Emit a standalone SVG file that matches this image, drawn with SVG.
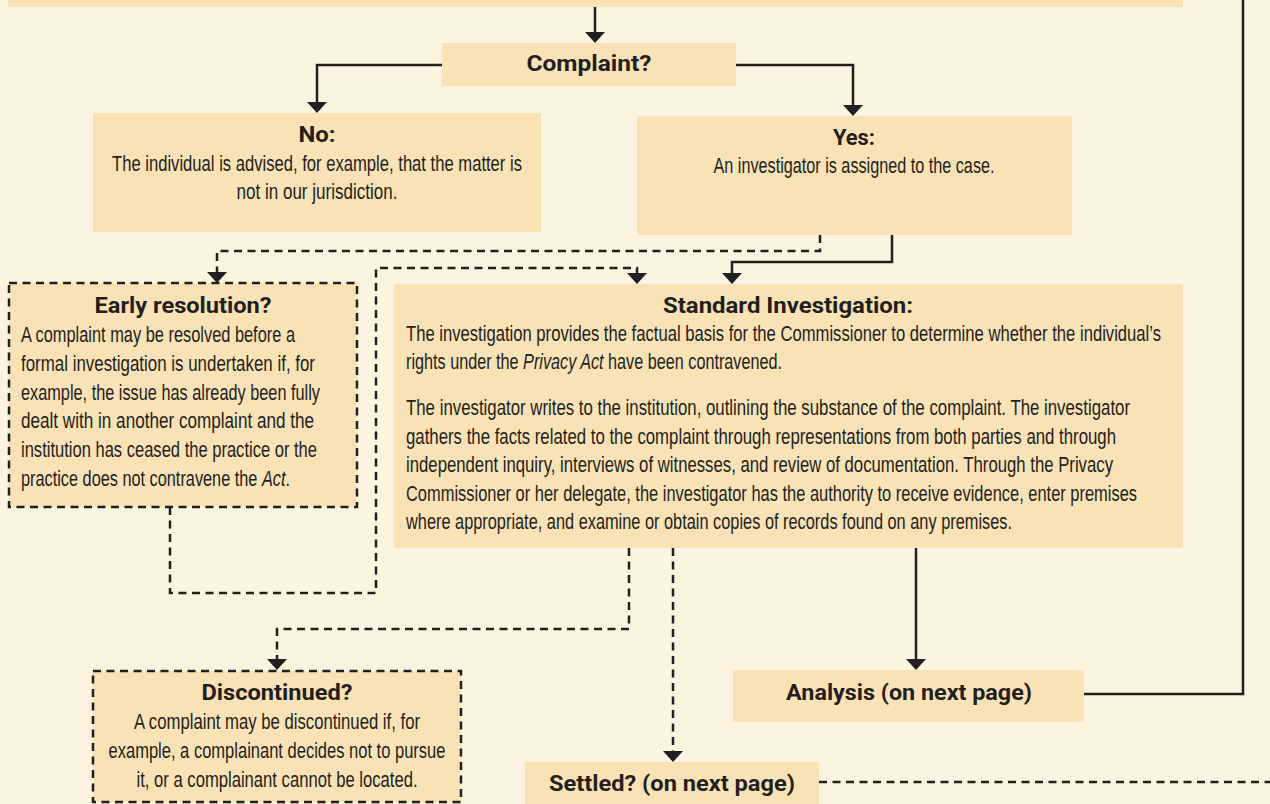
<svg xmlns="http://www.w3.org/2000/svg" width="1270" height="804" viewBox="0 0 1270 804">
<defs>
<style>
.bg{fill:#FCF3E1}
.box{fill:#F9E2B6}
.dbox{fill:#F9E2B6;stroke:#231F20;stroke-width:2.5;stroke-dasharray:8 5.5}
.t{font-family:Roboto,"Open Sans",sans-serif;font-weight:bold;font-size:22px;fill:#231F20}
.b{font-family:"Liberation Sans Narrow","Liberation Sans",sans-serif;font-size:21.5px;fill:#231F20}
.i{font-style:italic}
.m{text-anchor:middle}
.c{fill:none;stroke:#231F20;stroke-width:2.5}
.d{fill:none;stroke:#231F20;stroke-width:2.5;stroke-dasharray:8 5.5}
</style>
<marker id="ah" viewBox="0 0 11 20" refX="6" refY="10" markerWidth="11" markerHeight="20" markerUnits="userSpaceOnUse" orient="auto">
<path d="M0,0 L11,10 L0,20 z" fill="#231F20"/>
</marker>
</defs>
<rect class="bg" x="0" y="0" width="1270" height="804"/>

<g id="connectors">
<path class="c" d="M595,7 V38" marker-end="url(#ah)"/>
<path class="c" d="M442,65 H317 V108" marker-end="url(#ah)"/>
<path class="c" d="M736,65 H853 V111" marker-end="url(#ah)"/>
<path class="d" d="M820,235 V251 H217 V278" marker-end="url(#ah)"/>
<path class="c" d="M892,235 V262 H732 V279" marker-end="url(#ah)"/>
<path class="d" d="M170,507 V593 H376 V268 H637 V279" marker-end="url(#ah)"/>
<path class="d" d="M629,548 V629 H277 V665" marker-end="url(#ah)"/>
<path class="d" d="M673,548 V757" marker-end="url(#ah)"/>
<path class="c" d="M916,548 V665" marker-end="url(#ah)"/>
<path class="c" d="M1084,694 H1243 V0"/>
<path class="d" d="M819,782 H1270"/>
</g>

<g id="top">
<rect class="box" x="8" y="-10" width="1175" height="17"/>
</g>

<g id="complaint">
<rect class="box" x="442" y="43" width="294" height="43"/>
<text class="t m" x="589" y="71" textLength="125" lengthAdjust="spacingAndGlyphs">Complaint?</text>
</g>

<g id="no">
<rect class="box" x="93" y="113" width="448" height="119"/>
<text class="t m" x="317" y="142" textLength="37" lengthAdjust="spacingAndGlyphs">No:</text>
<text class="b m" x="317" y="171" textLength="410" lengthAdjust="spacingAndGlyphs">The individual is advised, for example, that the matter is</text>
<text class="b m" x="317" y="199" textLength="161" lengthAdjust="spacingAndGlyphs">not in our jurisdiction.</text>
</g>

<g id="yes">
<rect class="box" x="637" y="116" width="435" height="119"/>
<text class="t m" x="854" y="145" textLength="42" lengthAdjust="spacingAndGlyphs">Yes:</text>
<text class="b m" x="854" y="173" textLength="281" lengthAdjust="spacingAndGlyphs">An investigator is assigned to the case.</text>
</g>

<g id="early">
<rect class="dbox" x="9" y="283" width="348" height="224"/>
<text class="t m" x="183" y="313" textLength="177" lengthAdjust="spacingAndGlyphs">Early resolution?</text>
<text class="b" x="21" y="342" textLength="274" lengthAdjust="spacingAndGlyphs">A complaint may be resolved before a</text>
<text class="b" x="21" y="371" textLength="294" lengthAdjust="spacingAndGlyphs">formal investigation is undertaken if, for</text>
<text class="b" x="21" y="400" textLength="299" lengthAdjust="spacingAndGlyphs">example, the issue has already been fully</text>
<text class="b" x="21" y="428" textLength="293" lengthAdjust="spacingAndGlyphs">dealt with in another complaint and the</text>
<text class="b" x="21" y="457" textLength="296" lengthAdjust="spacingAndGlyphs">institution has ceased the practice or the</text>
<text class="b" x="21" y="486" textLength="269" lengthAdjust="spacingAndGlyphs">practice does not contravene the <tspan class="i">Act</tspan>.</text>
</g>

<g id="standard">
<rect class="box" x="394" y="284" width="789" height="264"/>
<text class="t m" x="788" y="313" textLength="250" lengthAdjust="spacingAndGlyphs">Standard Investigation:</text>
<text class="b" x="406" y="341" textLength="755" lengthAdjust="spacingAndGlyphs">The investigation provides the factual basis for the Commissioner to determine whether the individual’s</text>
<text class="b" x="406" y="369" textLength="376" lengthAdjust="spacingAndGlyphs">rights under the <tspan class="i">Privacy Act</tspan> have been contravened.</text>
<text class="b" x="406" y="415" textLength="724" lengthAdjust="spacingAndGlyphs">The investigator writes to the institution, outlining the substance of the complaint. The investigator</text>
<text class="b" x="406" y="444" textLength="710" lengthAdjust="spacingAndGlyphs">gathers the facts related to the complaint through representations from both parties and through</text>
<text class="b" x="406" y="472" textLength="707" lengthAdjust="spacingAndGlyphs">independent inquiry, interviews of witnesses, and review of documentation. Through the Privacy</text>
<text class="b" x="406" y="501" textLength="731" lengthAdjust="spacingAndGlyphs">Commissioner or her delegate, the investigator has the authority to receive evidence, enter premises</text>
<text class="b" x="406" y="529" textLength="606" lengthAdjust="spacingAndGlyphs">where appropriate, and examine or obtain copies of records found on any premises.</text>
</g>

<g id="discontinued">
<rect class="dbox" x="93" y="671" width="368" height="131"/>
<text class="t m" x="277" y="700" textLength="151" lengthAdjust="spacingAndGlyphs">Discontinued?</text>
<text class="b m" x="277" y="729" textLength="286" lengthAdjust="spacingAndGlyphs">A complaint may be discontinued if, for</text>
<text class="b m" x="277" y="758" textLength="337" lengthAdjust="spacingAndGlyphs">example, a complainant decides not to pursue</text>
<text class="b m" x="277" y="787" textLength="281" lengthAdjust="spacingAndGlyphs">it, or a complainant cannot be located.</text>
</g>

<g id="analysis">
<rect class="box" x="733" y="670" width="351" height="52"/>
<text class="t m" x="909" y="700" textLength="246" lengthAdjust="spacingAndGlyphs">Analysis (on next page)</text>
</g>

<g id="settled">
<rect class="box" x="525" y="762" width="294" height="50"/>
<text class="t m" x="672" y="791" textLength="246" lengthAdjust="spacingAndGlyphs">Settled? (on next page)</text>
</g>
</svg>
